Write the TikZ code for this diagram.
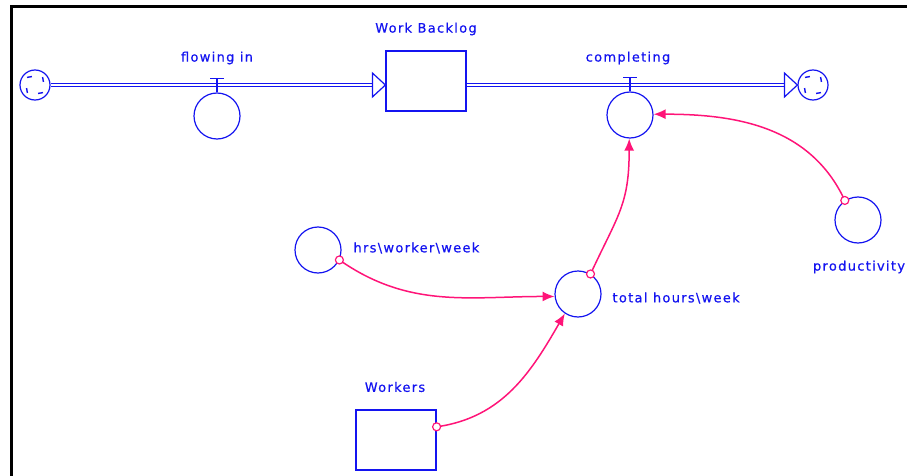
\documentclass[tikz,border=0pt]{standalone}
\usepackage{fontspec}
\setmainfont{DejaVu Sans}[LetterSpace=10,FakeBold=0.6]
\usetikzlibrary{calc}
\usetikzlibrary{arrows.meta}

\definecolor{simblue}{RGB}{20,20,240}
\definecolor{linkpink}{RGB}{255,20,120}

\begin{document}
\begin{tikzpicture}[x=1pt,y=-1pt,
  font=\fontsize{13}{15}\selectfont,
  every node/.style={text=simblue},
  aux/.style={draw=simblue,line width=1.2pt,circle,minimum size=46pt,inner sep=0pt},
  stock/.style={draw=simblue,line width=1.2pt,minimum width=80pt,minimum height=60pt,inner sep=0pt},
  cloud/.style={draw=simblue,line width=1.2pt,circle,minimum size=30pt,inner sep=0pt,
    path picture={\foreach \a in {20,110,200,290}
      \draw[simblue,line width=1.4pt] ($(path picture bounding box.center)+(\a:9pt)$) -- ++(\a+80:5pt);}},
  pipe/.style={simblue,double distance=2.6pt,line width=1pt},
  link/.style={linkpink,line width=1.5pt,-{Latex[length=12pt,width=10pt]}},
  tail/.style={draw=linkpink,fill=white,line width=1.2pt}]
\useasboundingbox (0,0) rectangle (907,476);
\draw[line width=3pt] (907,6.5) -- (11.5,6.5) -- (11.5,476);

\node[cloud] (src) at (35,85) {};
\node[cloud] (snk) at (813,85) {};
\node[stock] (backlog) at (426,81) {};
\node[stock] (workers) at (396,440) {};
\node[aux] (flow) at (217,116) {};
\node[aux] (compl) at (630,115) {};
\node[aux] (hrs) at (318,250) {};
\node[aux] (total) at (578,294) {};
\node[aux] (prod) at (858,220) {};

\draw[pipe] (src.east) -- ($(backlog.west |- src)+(-13,0)$);
\draw[simblue,line width=1.2pt,fill=white] (backlog.west |- src) -- ++(-13,-12) -- ++(0,24) -- cycle;
\draw[pipe] (backlog.east |- snk) -- ($(snk.west)+(-13,0)$);
\draw[simblue,line width=1.2pt,fill=white] (snk.west) -- ++(-13,-12) -- ++(0,24) -- cycle;

\foreach \v in {flow,compl} {
  \draw[simblue,line width=1.2pt] (\v.north) -- ++(0,-14);
  \draw[simblue,line width=1.2pt] ($(\v.north)+(-7,-14)$) -- ++(14,0);
}

\node (flowlbl) at (217,58) {flowing in};
\node (backloglbl) at (426,29) {Work Backlog};
\node (compllbl) at (628,58) {completing};
\node[anchor=west] (hrslbl) at (350,248) {hrs\textbackslash worker\textbackslash week};
\node[anchor=west] (totallbl) at (609,298) {total hours\textbackslash week};
\node (prodlbl) at (859,267) {productivity};
\node (workerslbl) at (395,387) {Workers};

\draw[link] (hrs.-25) to[out=-35,in=180] (total.186);
\draw[link] (workers.18) to[out=8,in=240] (total.236);
\draw[link] (total.58) to[out=65,in=-90,looseness=1.2] (compl.-92);
\draw[link] (prod.124) to[out=115,in=0] (compl.2);
\draw[tail] (hrs.-25) circle (4pt);
\draw[tail] (workers.18) circle (4pt);
\draw[tail] (total.58) circle (4pt);
\draw[tail] (prod.124) circle (4pt);
\end{tikzpicture}
\end{document}
